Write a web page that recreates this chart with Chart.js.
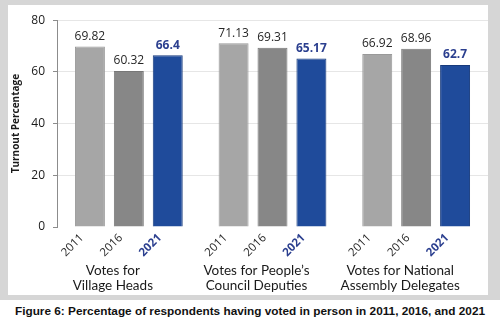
<!DOCTYPE html>
<html>
<head>
<meta charset="utf-8">
<script src="https://cdn.jsdelivr.net/npm/chart.js@4/dist/chart.umd.min.js"></script>
<style>
	body { margin: 0; background: #fff; width: 500px; height: 326px; position: relative; overflow: hidden; }
	#frame { position: absolute; left: 0; top: 0; width: 500px; height: 300px; background: #d6d6d6; }
	#panel { position: absolute; left: 8px; top: 5px; width: 480px; height: 290px; background: #fff; }
	#caption { position: absolute; left: 0; top: 304px; width: 500px; text-align: center;
		font: bold 11.8px "Liberation Sans", Arial, sans-serif; color: #111; }
</style>
</head>
<body>
<div id="frame"><div id="panel"><canvas id="chart" width="480" height="290"></canvas></div></div>
<div id="caption">Figure 6: Percentage of respondents having voted in person in 2011, 2016, and 2021</div>
<script>
var groups = [['Votes for', 'Village Heads'], ['Votes for People\u2019s', 'Council Deputies'], ['Votes for National', 'Assembly Delegates']];
var years = ['2011', '2016', '2021'];
var turnout2011 = [69.82, 71.13, 66.92];
var turnout2016 = [60.32, 69.31, 68.96];
var turnout2021 = [66.4, 65.17, 62.7];
var yMax = 80, yStep = 20;

var blue = '#2b3f8f';

// value labels above bars + rotated year labels under each bar
const barLabels = {
	id: 'barLabels',
	afterDatasetsDraw(chart) {
		const {ctx, chartArea: {bottom}} = chart;
		chart.data.datasets.forEach((ds, i) => {
			const meta = chart.getDatasetMeta(i);
			const hi = (i == 2);
			meta.data.forEach((bar, j) => {
				ctx.save();
				ctx.fillStyle = hi ? blue : '#262626';
				ctx.font = (hi ? 'bold ' : '') + '12px "Open Sans", sans-serif';
				ctx.textAlign = 'center';
				ctx.textBaseline = 'bottom';
				ctx.fillText(ds.data[j], bar.x, bar.y - 4);
				ctx.font = (hi ? 'bold ' : '') + '11.5px "Open Sans", sans-serif';
				ctx.translate(bar.x - 8, bottom + 9);
				ctx.rotate(-Math.PI / 4);
				ctx.textAlign = 'right';
				ctx.textBaseline = 'middle';
				ctx.fillText(ds.label, 0, 0);
				ctx.restore();
			});
		});
	}
};

var chart = new Chart(document.getElementById('chart'), {
	type: 'bar',
	data: {
		labels: groups,
		datasets: [{
			label: years[0],
			data: turnout2011,
			backgroundColor: '#a6a6a6',
			borderColor: '#999999',
			borderWidth: 1,
		}, {
			label: years[1],
			data: turnout2016,
			backgroundColor: '#878787',
			borderColor: '#777777',
			borderWidth: 1,
		}, {
			label: years[2],
			data: turnout2021,
			backgroundColor: '#1f4b9b',
			borderColor: '#173a7c',
			borderWidth: 1,
		}]
	},
	options: {
		responsive: false,
		animation: false,
		categoryPercentage: 0.8125,
		barPercentage: 0.77,
		layout: { padding: { top: 13, right: 0, left: 0, bottom: 0 } },
		scales: {
			x: {
				grid: { display: false, drawTicks: false },
				border: { display: false },
				ticks: {
					color: '#1a1a1a',
					font: { family: 'Lato', size: 13.5, lineHeight: 1.1 },
					padding: 36,
					labelOffset: -16,
					maxRotation: 0,
				},
				afterFit: function(scale) {
					scale.height = 68;
					scale.paddingLeft = 0;
					scale.paddingRight = 0;
				},
			},
			y: {
				min: 0, max: yMax,
				ticks: {
					stepSize: yStep,
					padding: 8,
					color: '#1a1a1a',
					font: { family: 'Open Sans', size: 12 },
				},
				grid: {
					color: ctx => ctx.tick && ctx.tick.value == 0 ? 'rgba(0,0,0,0)' : '#e6e6e6',
					tickColor: '#8c8c8c',
					tickLength: 4,
				},
				border: { color: '#8c8c8c' },
				title: {
					display: true,
					text: 'Turnout Percentage',
					color: '#1a1a1a',
					font: { family: 'Open Sans', size: 10, weight: 'bold' },
					padding: { top: 2, bottom: 0 },
				},
				afterFit: function(scale) { scale.width = 49; },
			},
		},
		plugins: {
			legend: { display: false },
			tooltip: { enabled: false },
		},
	},
	plugins: [barLabels],
});
</script>
</body>
</html>
